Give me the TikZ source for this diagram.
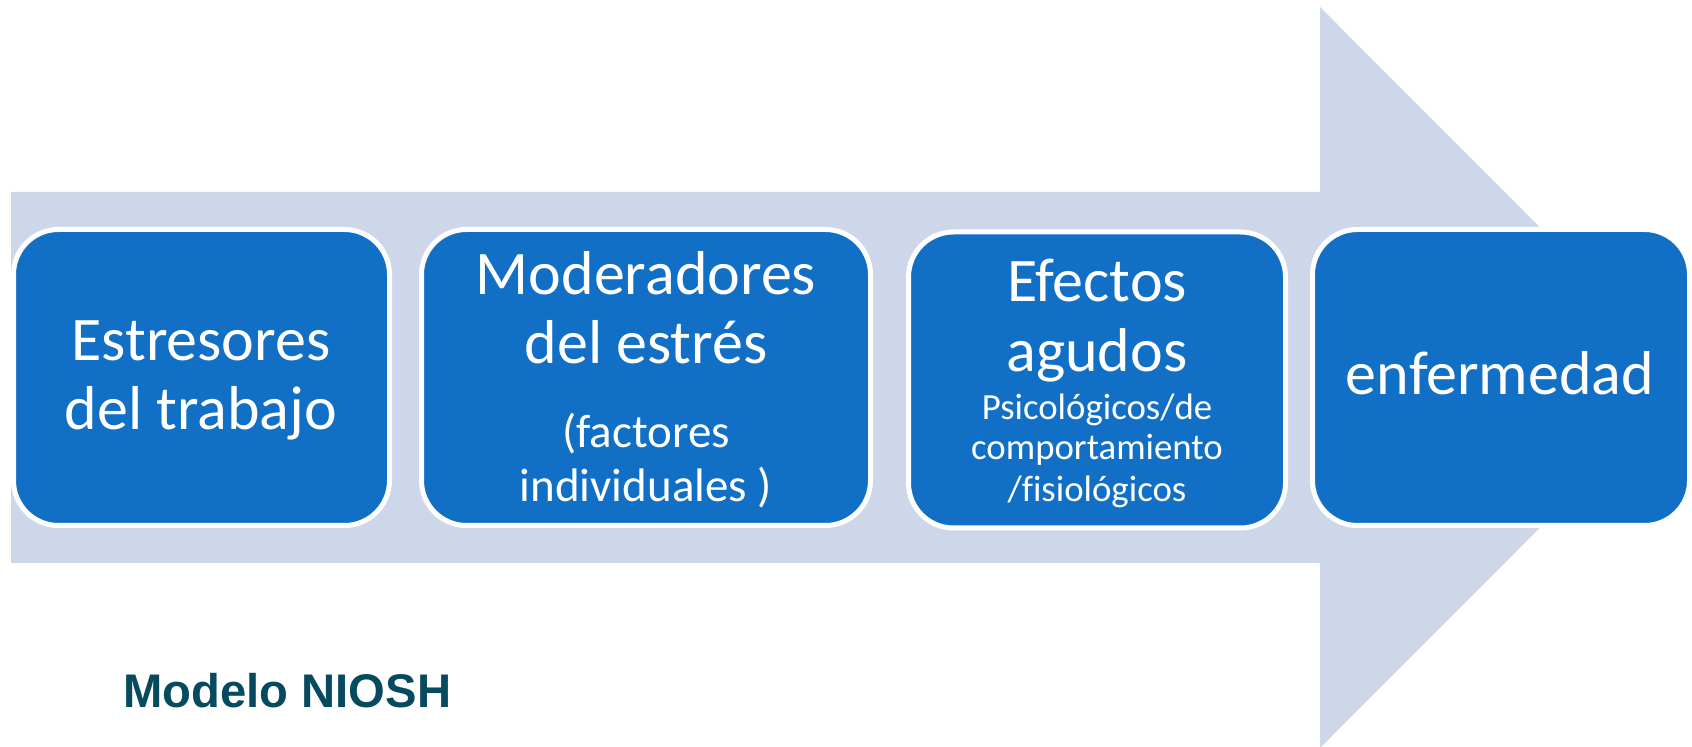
\documentclass[tikz,border=0pt]{standalone}
\usepackage{fontspec}
\setmainfont{Carlito}[Ligatures=NoCommon]
\newfontfamily\arialfont{Liberation Sans}
\definecolor{arrowfill}{RGB}{206,215,234}
\definecolor{boxblue}{RGB}{17,112,198}
\definecolor{titleteal}{RGB}{5,74,94}
\begin{document}
\begin{tikzpicture}[x=0.5pt,y=-0.5pt,
  stagebox/.style={rounded corners=22.5pt, fill=boxblue, draw=white, line width=2.5pt, inner sep=0pt, minimum height=148pt},
  bigtxt/.style={text=white, anchor=base, inner sep=0pt, font=\fontsize{31}{37}\selectfont},
  midtxt/.style={text=white, anchor=base, inner sep=0pt, font=\fontsize{23.5}{28}\selectfont},
  smalltxt/.style={text=white, anchor=base, inner sep=0pt, font=\fontsize{18.4}{22}\selectfont}]
\useasboundingbox (0,0) rectangle (1692,747);
% big arrow
\fill[arrowfill] (11,192) -- (1320,192) -- (1320,7) -- (1690,377.5) -- (1320,748) -- (1320,563) -- (11,563) -- cycle;
% boxes
\node[stagebox, minimum width=188pt] (b1) at (201.5,377.5) {};
\node[stagebox, minimum width=224.5pt] (b2) at (646,377.5) {};
\node[stagebox, minimum width=188.5pt] (b3) at (1097,380) {};
\node[stagebox, minimum width=188.5pt] (b4) at (1501,377.5) {};
% texts
\node[bigtxt] (t1a) at (201,361) {Estresores};
\node[bigtxt] (t1b) at (201,430) {del trabajo};
\node[bigtxt] (t2a) at (646,295) {Moderadores};
\node[bigtxt] (t2b) at (646,364) {del estrés};
\node[midtxt] (t2c) at (646,448) {(factores};
\node[midtxt] (t2d) at (646,502) {individuales )};
\node[bigtxt] (t3a) at (1097,302) {Efectos};
\node[bigtxt] (t3b) at (1097,372) {agudos};
\node[smalltxt] (t3c) at (1097,420) {Psicológicos/de};
\node[smalltxt] (t3d) at (1097,460) {comportamiento};
\node[smalltxt] (t3e) at (1097,502) {/fisiológicos};
\node[bigtxt] (t4a) at (1500,395) {enfermedad};
\node[anchor=base west, inner sep=0pt, text=titleteal, font=\arialfont\bfseries\fontsize{23.6}{28}\selectfont] (title) at (123,708) {Modelo NIOSH};
\end{tikzpicture}
\end{document}
